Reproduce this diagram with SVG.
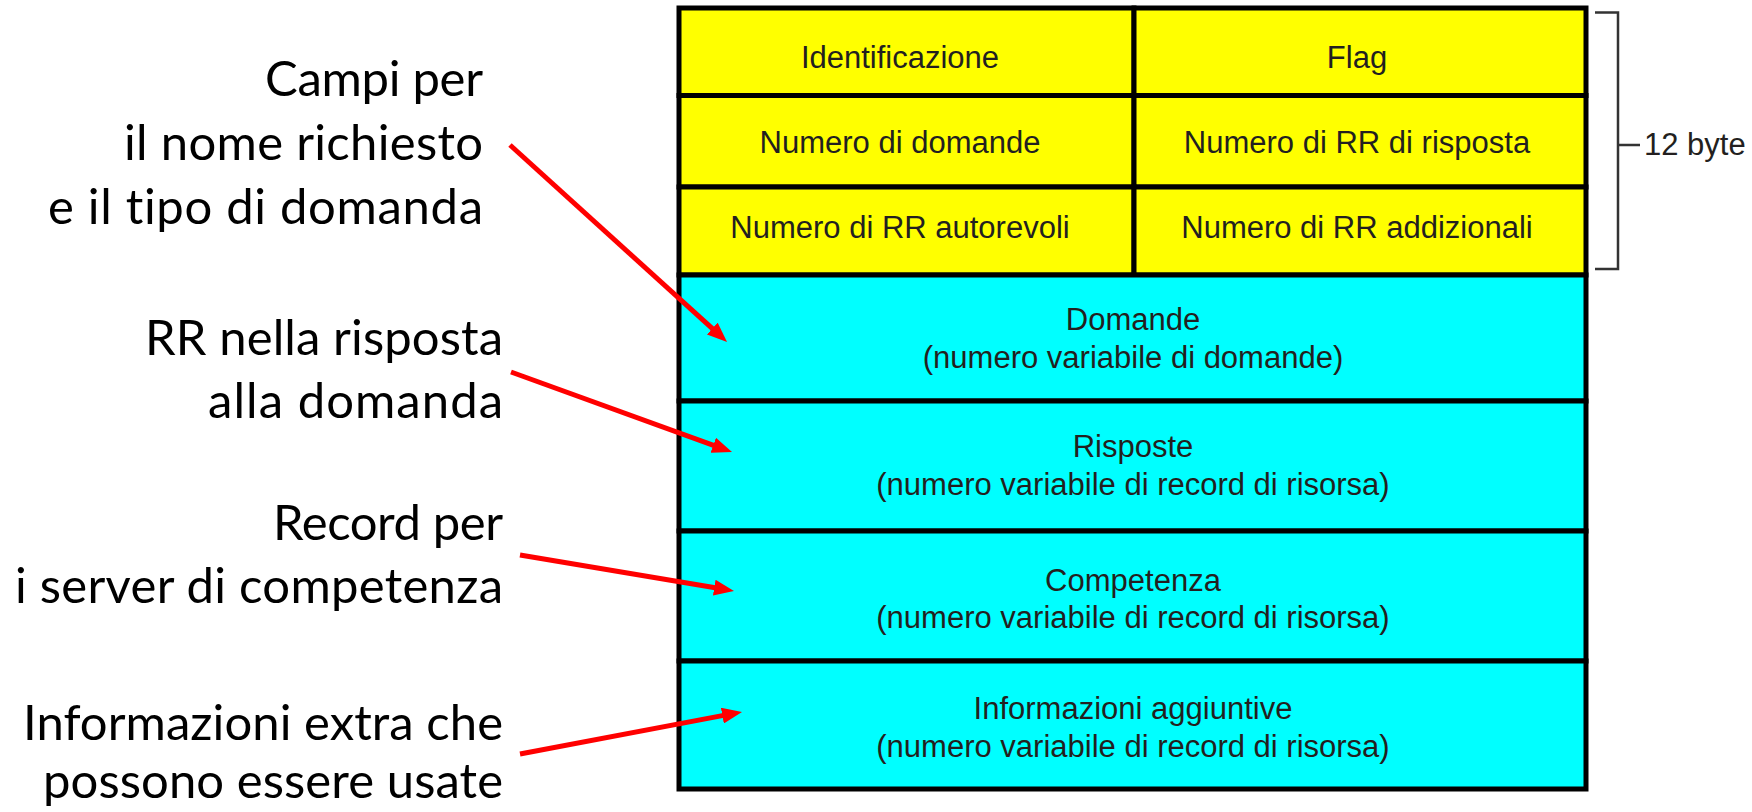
<svg xmlns="http://www.w3.org/2000/svg" width="1752" height="812" viewBox="0 0 1752 812">
<style>
.cell{stroke:#000;stroke-width:5}
.y{fill:#ffff00}
.c{fill:#00ffff}
.t{font-family:"Liberation Sans",Arial,sans-serif;font-size:31px;fill:#231f20;text-anchor:middle}
.lab{font-family:Lato,"Liberation Sans",sans-serif;font-size:49px;fill:#000;text-anchor:end;font-variant-ligatures:none;font-feature-settings:"liga" 0,"dlig" 0}
.arr{stroke:#ff0000;stroke-width:5;fill:none;marker-end:url(#ah)}
.br{stroke:#333;stroke-width:2.5;fill:none}
</style>
<defs>
<marker id="ah" markerUnits="userSpaceOnUse" markerWidth="20" markerHeight="16" refX="4" refY="8" orient="auto" viewBox="0 0 20 16">
<path d="M0,0 L20,8 L0,16 z" fill="#ff0000"/>
</marker>
</defs>
<rect width="1752" height="812" fill="#fff"/>

<g id="identificazione"><rect class="cell y" x="679" y="8" width="455" height="87.5"/><text class="t" x="900" y="68">Identificazione</text></g>
<g id="flag"><rect class="cell y" x="1134" y="8" width="452" height="87.5"/><text class="t" x="1357" y="68">Flag</text></g>
<g id="num-domande"><rect class="cell y" x="679" y="95.5" width="455" height="91.5"/><text class="t" x="900" y="153">Numero di domande</text></g>
<g id="num-rr-risposta"><rect class="cell y" x="1134" y="95.5" width="452" height="91.5"/><text class="t" x="1357" y="153">Numero di RR di risposta</text></g>
<g id="num-rr-autorevoli"><rect class="cell y" x="679" y="187" width="455" height="88"/><text class="t" x="900" y="238">Numero di RR autorevoli</text></g>
<g id="num-rr-addizionali"><rect class="cell y" x="1134" y="187" width="452" height="88"/><text class="t" x="1357" y="238">Numero di RR addizionali</text></g>
<g id="domande"><rect class="cell c" x="679" y="275" width="907" height="126"/><text class="t" x="1133" y="330">Domande</text><text class="t" x="1133" y="368">(numero variabile di domande)</text></g>
<g id="risposte"><rect class="cell c" x="679" y="401" width="907" height="130"/><text class="t" x="1133" y="457">Risposte</text><text class="t" x="1133" y="495">(numero variabile di record di risorsa)</text></g>
<g id="competenza"><rect class="cell c" x="679" y="531" width="907" height="130"/><text class="t" x="1133" y="591">Competenza</text><text class="t" x="1133" y="628">(numero variabile di record di risorsa)</text></g>
<g id="informazioni"><rect class="cell c" x="679" y="661" width="907" height="128"/><text class="t" x="1133" y="719">Informazioni aggiuntive</text><text class="t" x="1133" y="757">(numero variabile di record di risorsa)</text></g>

<g id="bracket-12byte">
<path class="br" d="M1595,12.5 H1618 V269 H1595 M1618,145 H1640"/>
<text x="1644" y="155" style="font-family:'Liberation Sans',Arial,sans-serif;font-size:31px;fill:#231f20">12 byte</text>
</g>

<g id="label-campi">
<text class="lab" x="483" y="96" textLength="218" lengthAdjust="spacing">Campi per</text>
<text class="lab" x="483" y="160" textLength="359" lengthAdjust="spacing">il nome richiesto</text>
<text class="lab" x="483" y="224" textLength="435" lengthAdjust="spacing">e il tipo di domanda</text>
</g>
<g id="label-rr">
<text class="lab" x="503" y="355" textLength="358" lengthAdjust="spacing">RR nella risposta</text>
<text class="lab" x="503" y="418" textLength="295" lengthAdjust="spacing">alla domanda</text>
</g>
<g id="label-record">
<text class="lab" x="503" y="540" textLength="230" lengthAdjust="spacing">Record per</text>
<text class="lab" x="503" y="603" textLength="488" lengthAdjust="spacing">i server di competenza</text>
</g>
<g id="label-info">
<text class="lab" x="503" y="740" textLength="480" lengthAdjust="spacing">Informazioni extra che</text>
<text class="lab" x="503" y="798" textLength="460" lengthAdjust="spacing">possono essere usate</text>
</g>

<g id="connectors">
<line class="arr" x1="510" y1="145" x2="715.2" y2="331.2"/>
<line class="arr" x1="511" y1="372" x2="717" y2="446.6"/>
<line class="arr" x1="520" y1="555" x2="718.2" y2="588.3"/>
<line class="arr" x1="520" y1="754" x2="726.3" y2="714.9"/>
</g>
</svg>
